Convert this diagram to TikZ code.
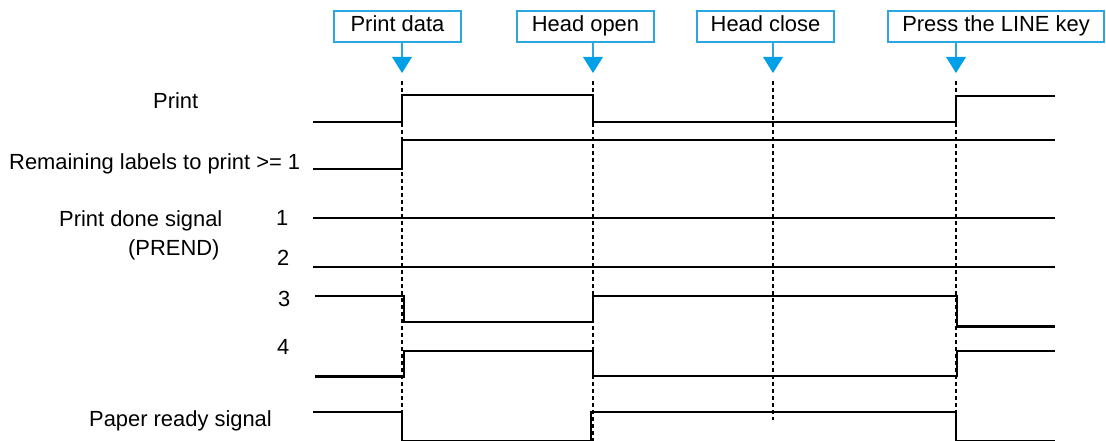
\documentclass[tikz,border=0pt]{standalone}
\usepackage{fontspec}
\setmainfont{Liberation Sans}
\usetikzlibrary{calc}
\definecolor{boxblue}{HTML}{2AA6E0}
\definecolor{arrowblue}{HTML}{00A0E9}
\begin{document}
\begin{tikzpicture}[x=1pt,y=-1pt,
  every node/.style={font=\fontsize{21.9}{26}\selectfont, inner sep=0pt},
  evbox/.style={draw=boxblue, line width=2pt, fill=white, minimum height=31pt,
    text height=15.5pt, text depth=4.5pt, anchor=center},
  evline/.style={draw=boxblue, line width=2pt},
  evtip/.style={fill=arrowblue},
  guide/.style={line width=1.4pt, dash pattern=on 4pt off 3pt},
  sig/.style={line width=2.8pt, line join=miter},
  lbl/.style={anchor=base west}]
\useasboundingbox (0,0) rectangle (1106,441);
% event times
\coordinate (t1) at (402,0);
\coordinate (t2) at (593,0);
\coordinate (t3) at (773,0);
\coordinate (t4) at (956,0);
% event boxes
\node[evbox, minimum width=127pt] (b1) at (397.5,26.5) {Print data};
\node[evbox, minimum width=137pt] (b2) at (585.5,26.5) {Head open};
\node[evbox, minimum width=137pt] (b3) at (765.5,26.5) {Head close};
\node[evbox, minimum width=216pt] (b4) at (996,26.5) {Press the LINE key};
% arrows
\foreach \b/\t in {b1/t1,b2/t2,b3/t3,b4/t4}{
  \draw[evline] (\b.south -| \t) -- ($(\b.south -| \t)+(0,14)$);
}
\foreach \x in {402,593,773,956}{
  \fill[evtip] (\x-10,57) -- (\x+10,57) -- (\x,73) -- cycle;
}
% guide lines
\draw[guide] (t1|-0,81) -- (t1|-0,441);
\draw[guide] (t2|-0,81) -- (t2|-0,441);
\draw[guide] (t3|-0,81) -- (t3|-0,420);
\draw[guide] (t4|-0,81) -- (t4|-0,441);
% labels
\node[lbl] (lprint) at (153,109) {Print};
\node[lbl] (lrem) at (9,169) {Remaining labels to print >= 1};
\node[lbl] (ldone) at (59,226.5) {Print done signal};
\node[lbl] (lprend) at (128,255) {(PREND)};
\node[lbl] (n1) at (276,225) {1};
\node[lbl] (n2) at (277,265.5) {2};
\node[lbl] (n3) at (278,306.5) {3};
\node[lbl] (n4) at (277,354) {4};
\node[lbl] (lpaper) at (89,426) {Paper ready signal};
% signals
\draw[sig] (313,122) -- (402,122) -- (402,95) -- (593,95) -- (593,122) -- (956,122) -- (956,96) -- (1055,96);
\draw[sig] (313,169) -- (402,169) -- (402,140) -- (1055,140);
\draw[sig] (313,218) -- (1055,218);
\draw[sig] (313,267) -- (1055,267);
\draw[sig] (315,296) -- (404,296) -- (404,322) -- (593,322) -- (593,296) -- (957,296) -- (957,326.5) -- (1055,326.5);
\draw[sig] (315,376.5) -- (404,376.5) -- (404,351) -- (593,351) -- (593,376) -- (957,376) -- (957,351) -- (1055,351);
\draw[sig] (313,412) -- (402,412) -- (402,441) -- (591,441) -- (591,412) -- (956,412) -- (956,441) -- (1055,441);
\end{tikzpicture}
\end{document}
